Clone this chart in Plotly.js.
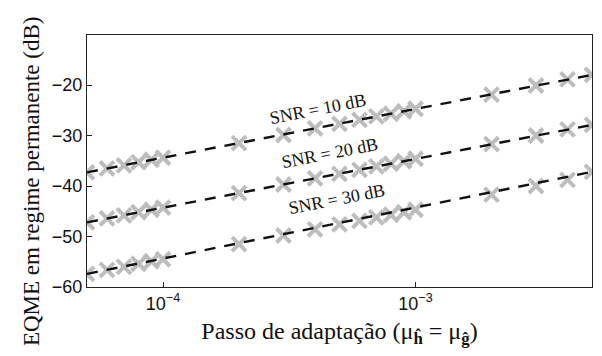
<!DOCTYPE html>
<html><head><meta charset="utf-8">
<script src="https://cdn.plot.ly/plotly-3.0.1.min.js"></script>
<style>body{margin:0;background:#fff}</style>
</head><body>
<div id="chart" style="width:602px;height:356px"></div>
<script>
const mu = [5e-5,6e-5,7e-5,8e-5,9e-5,1e-4,2e-4,3e-4,4e-4,5e-4,6e-4,7e-4,8e-4,9e-4,1e-3,2e-3,3e-3,4e-3,5e-3];
const snr10 = [-37.3,-36.5,-35.9,-35.3,-34.8,-34.4,-31.5,-29.9,-28.6,-27.7,-26.9,-26.2,-25.7,-25.2,-24.7,-21.9,-20.1,-18.9,-18.0];
const snr20 = [-47.2,-46.4,-45.8,-45.2,-44.7,-44.3,-41.4,-39.7,-38.5,-37.6,-36.8,-36.1,-35.6,-35.1,-34.6,-31.7,-30.0,-28.8,-27.9];
const snr30 = [-57.4,-56.6,-56.0,-55.4,-54.9,-54.5,-51.5,-49.8,-48.6,-47.6,-46.9,-46.2,-45.7,-45.2,-44.7,-41.7,-40.0,-38.8,-37.2];
const fitX = [5e-5, 5e-3];
const fit10 = [-37.3, -18.0];
const fit20 = [-47.2, -27.9];
const fit30 = [-57.4, -37.2];
const labels = ["SNR = 10 dB","SNR = 20 dB","SNR = 30 dB"];
const labelX = [4.1e-4, 4.6e-4, 4.9e-4];
const labelY = [-24.7, -33.5, -42.6];
const xTickVals = [1e-4, 1e-3];
const xTickText = ["10<sup>−4</sup>","10<sup>−3</sup>"];
const yTickVals = [-60,-50,-40,-30,-20];
const yTickText = ["−60","−50","−40","−30","−20"];
const xTitle = 'Passo de adaptação (μ<sub><b>ĥ</b></sub> = μ<sub><b>ĝ</b></sub>)';
const yTitle = 'EQME em regime permanente (dB)';

const SERIF = 'Liberation Serif';
const SANS = 'Liberation Sans';
const markerStyle = {symbol:'x-thin-open', size:14, color:'#bdbdbd', line:{color:'#bdbdbd', width:4}};
const lineStyle = {color:'#111', width:2.4, dash:'11px,9px'};
const traces = [];
[snr10, snr20, snr30].forEach(s => traces.push({x:mu, y:s, mode:'markers', type:'scatter', marker:markerStyle, showlegend:false, hoverinfo:'skip'}));
[fit10, fit20, fit30].forEach(f => traces.push({x:fitX, y:f, mode:'lines', type:'scatter', line:lineStyle, showlegend:false, hoverinfo:'skip'}));

const annotations = labels.map((t,i)=>({x:Math.log10(labelX[i]), y:labelY[i], xref:'x', yref:'y', text:t, showarrow:false, textangle:-11, font:{family:SERIF, size:18, color:'#111'}}));
annotations.push({xref:'paper', yref:'paper', x:-0.111, y:0.42, xanchor:'center', yanchor:'middle', text:yTitle, textangle:-90, showarrow:false, font:{family:SERIF, size:23, color:'#111'}});

const layout = {
  width:602, height:356,
  margin:{l:87, r:10, t:35, b:69},
  paper_bgcolor:'#fff', plot_bgcolor:'#fff',
  font:{family:SANS},
  xaxis:{type:'log', range:[Math.log10(5e-5), Math.log10(5e-3)], tickvals:xTickVals, ticktext:xTickText, ticks:'inside', ticklen:5, tickcolor:'#222', showgrid:false, zeroline:false, showline:true, linecolor:'#222', linewidth:1, mirror:true,
    tickfont:{family:SANS, size:18, color:'#111'},
    title:{text:xTitle, font:{family:SERIF, size:24, color:'#111'}, standoff:9}},
  yaxis:{range:[-60,-10.1], tickvals:yTickVals, ticktext:yTickText, ticks:'inside', ticklen:5, tickcolor:'#222', showgrid:false, zeroline:false, showline:true, linecolor:'#222', linewidth:1, mirror:true,
    tickfont:{family:SANS, size:18, color:'#111'}},
  annotations:annotations
};
Plotly.newPlot('chart', traces, layout, {staticPlot:true, displayModeBar:false});
</script>
</body></html>
